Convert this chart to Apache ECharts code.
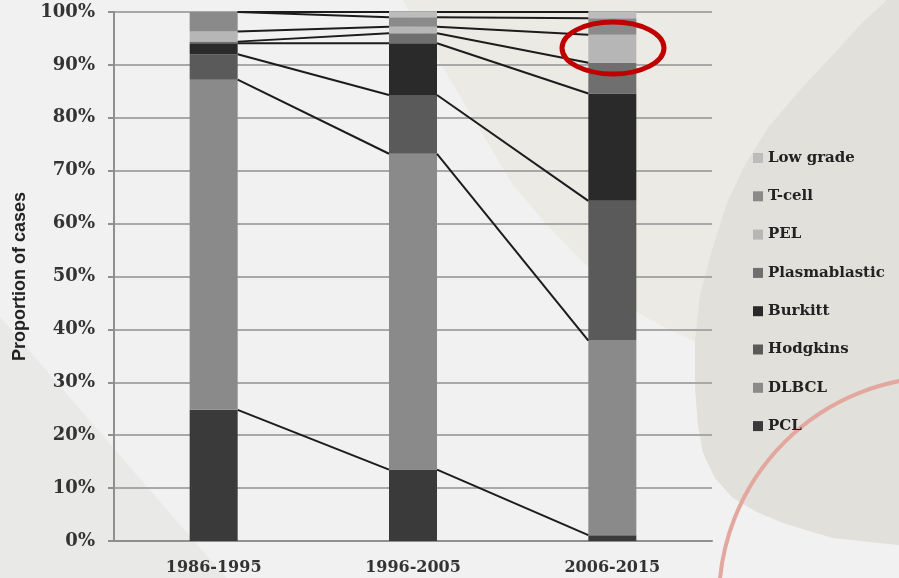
<!DOCTYPE html>
<html>
<head>
<meta charset="utf-8">
<script src="https://cdn.jsdelivr.net/npm/echarts@6/dist/echarts.min.js"></script>
<style>
  html, body { margin: 0; padding: 0; background: #f1f1f1; }
  #chart { width: 899px; height: 578px; }
</style>
</head>
<body>
<div id="chart"></div>
<script>
// categories (periods)
const categories = ['1986-1995', '1996-2005', '2006-2015'];

// share of cases per lymphoma type, % (bottom of stack first)
const pcl = [24.8, 13.5, 1.1];
const dlbcl = [62.4, 59.7, 36.8];
const hodgkins = [4.8, 11.1, 26.4];
const burkitt = [2.1, 9.8, 20.3];
const plasmablastic = [0.3, 1.9, 5.8];
const pel = [1.9, 1.2, 5.3];
const tcell = [3.7, 1.8, 3.1];
const lowGrade = [0, 1.0, 1.2];

const seriesNames = ['PCL', 'DLBCL', 'Hodgkins', 'Burkitt', 'Plasmablastic', 'PEL', 'T-cell', 'Low grade'];
const seriesValues = [pcl, dlbcl, hodgkins, burkitt, plasmablastic, pel, tcell, lowGrade];
const seriesColors = ['#3a3a3a', '#8a8a8a', '#5a5a5a', '#2a2a2a', '#6f6f6f', '#b6b6b6', '#8a8a8a', '#bcbcbc'];

const BAR_W = 48;

// cumulative tops, used for the series lines between bars
const cumTops = seriesValues.map(function (_, k) {
  return categories.map(function (_, i) {
    let s = 0;
    for (let j = 0; j <= k; j++) s += seriesValues[j][i];
    return s;
  });
});

const lineData = [];
cumTops.forEach(function (tops, k) {
  for (let i = 0; i < categories.length - 1; i++) {
    lineData.push([i, tops[i], k]);
  }
});

const chart = echarts.init(document.getElementById('chart'));

const barSeries = seriesNames.map(function (name, k) {
  return {
    name: name,
    type: 'bar',
    stack: 'total',
    barWidth: BAR_W,
    data: seriesValues[k],
    itemStyle: { color: seriesColors[k] },
    silent: true
  };
});

// Excel style series lines from the right edge of one bar to the left edge of the next
const connectorSeries = {
  type: 'custom',
  name: 'lines',
  data: lineData,
  encode: { x: 0, y: 1 },
  z: 5,
  silent: true,
  renderItem: function (params, api) {
    const i = api.value(0);
    const k = api.value(2);
    const p1 = api.coord([i, cumTops[k][i]]);
    const p2 = api.coord([i + 1, cumTops[k][i + 1]]);
    return {
      type: 'line',
      shape: { x1: p1[0] + BAR_W / 2, y1: p1[1], x2: p2[0] - BAR_W / 2, y2: p2[1] },
      style: { stroke: '#1c1c1c', lineWidth: 2 }
    };
  }
};

// slide decoration outlines (not data)
const blobEdge = [[697, 342], [695, 387], [698, 425], [703, 453], [715, 478], [733, 498], [757, 512], [783, 523], [833, 538], [899, 545]];
const lightShape = [[403, 0], [425, 40], [447, 74], [480, 130], [513, 185], [550, 228], [587, 266], [615, 292], [640, 314], [670, 330]]
  .concat(blobEdge, [[899, 0]]);
const darkShape = [[887, 0], [860, 25], [833, 55], [800, 90], [767, 129], [745, 165], [727, 203], [712, 250], [700, 295], [695, 340]]
  .concat(blobEdge.slice(1), [[899, 0]]);

const option = {
  backgroundColor: '#f1f1f1',
  animation: false,
  graphic: [
    { type: 'polygon', z: -10, silent: true, shape: { points: lightShape }, style: { fill: '#eceae5' } },
    { type: 'polygon', z: -9, silent: true, shape: { points: darkShape }, style: { fill: '#e2e0da' } },
    { type: 'polygon', z: -10, silent: true, shape: { points: [[0, 317], [226, 578], [0, 578]] }, style: { fill: '#e9e9e8' } },
    {
      type: 'circle', z: -8, silent: true,
      shape: { cx: 942, cy: 600, r: 223 },
      style: { fill: 'none', stroke: '#e2a79e', lineWidth: 4 }
    },
    // red highlight ring
    {
      type: 'ellipse', z: 100, silent: true,
      shape: { cx: 613, cy: 48, rx: 51, ry: 26 },
      style: { fill: 'none', stroke: '#c00000', lineWidth: 5 }
    }
  ],
  grid: { left: 114, right: 187, top: 12, bottom: 37 },
  legend: {
    orient: 'vertical',
    left: 748,
    top: 145,
    itemWidth: 10,
    itemHeight: 10,
    itemGap: 22.3,
    icon: 'rect',
    selectedMode: false,
    data: seriesNames.slice().reverse(),
    textStyle: {
      color: '#222',
      fontFamily: 'DejaVu Serif',
      fontWeight: 'bold',
      fontSize: 15,
      lineHeight: 16
    }
  },
  xAxis: {
    type: 'category',
    data: categories,
    axisLine: { lineStyle: { color: '#8f8f8f', width: 2 } },
    axisTick: { show: false },
    axisLabel: {
      margin: 19,
      color: '#333',
      fontFamily: 'DejaVu Serif',
      fontWeight: 'bold',
      fontSize: 16
    }
  },
  yAxis: {
    type: 'value',
    min: 0,
    max: 100,
    interval: 10,
    name: 'Proportion of cases',
    nameLocation: 'middle',
    nameRotate: 90,
    nameGap: 77,
    nameTextStyle: {
      color: '#222',
      fontFamily: 'Liberation Sans',
      fontWeight: 'bold',
      fontSize: 18
    },
    axisLine: { show: true, lineStyle: { color: '#8f8f8f', width: 2 } },
    axisTick: { show: true, length: 6, lineStyle: { color: '#8f8f8f', width: 2 } },
    splitLine: { lineStyle: { color: '#a8a8a8', width: 2 } },
    axisLabel: {
      margin: 19,
      color: '#333',
      fontFamily: 'DejaVu Serif',
      fontWeight: 'bold',
      fontSize: 18,
      formatter: '{value}%'
    }
  },
  series: barSeries.concat([connectorSeries])
};

chart.setOption(option);
</script>
</body>
</html>
